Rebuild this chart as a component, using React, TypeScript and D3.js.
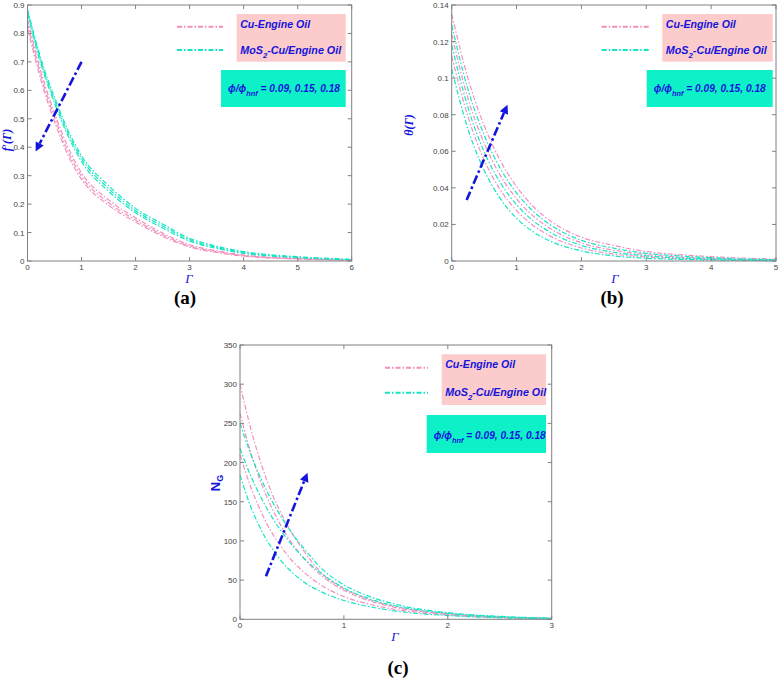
import React from 'react';
import * as d3 from 'd3';

// ---------- data ----------
const gridA = [0, 0.25, 0.5, 0.75, 1, 1.5, 2, 2.5, 3, 3.5, 4, 5, 6];
const cuA1 = [0.85, 0.665, 0.52, 0.4, 0.31, 0.215, 0.152, 0.098, 0.057, 0.036, 0.021, 0.009, 0.004];
const cuA2 = [0.835, 0.65, 0.505, 0.385, 0.298, 0.205, 0.144, 0.092, 0.053, 0.033, 0.019, 0.008, 0.003];
const cuA3 = [0.82, 0.635, 0.49, 0.372, 0.287, 0.196, 0.137, 0.087, 0.049, 0.03, 0.017, 0.007, 0.003];
const hyA1 = [0.885, 0.71, 0.575, 0.46, 0.37, 0.265, 0.185, 0.13, 0.08, 0.052, 0.033, 0.015, 0.006];
const hyA2 = [0.878, 0.7, 0.565, 0.45, 0.36, 0.255, 0.177, 0.123, 0.075, 0.048, 0.03, 0.013, 0.005];
const hyA3 = [0.87, 0.69, 0.555, 0.44, 0.35, 0.245, 0.17, 0.116, 0.07, 0.044, 0.027, 0.012, 0.004];

const gridB = [0, 0.25, 0.5, 0.75, 1, 1.25, 1.5, 2, 2.5, 3, 3.5, 4, 5];
const cuB1 = [0.135, 0.1, 0.0741, 0.0549, 0.0407, 0.0301, 0.0225, 0.013, 0.0085, 0.0052, 0.0035, 0.0024, 0.001];
const hyB1 = [0.129, 0.094, 0.069, 0.0505, 0.0372, 0.0274, 0.0203, 0.0113, 0.007, 0.0042, 0.0028, 0.0018, 0.0007];
const cuB2 = [0.124, 0.089, 0.0645, 0.0468, 0.034, 0.0248, 0.0182, 0.0099, 0.0059, 0.0035, 0.0022, 0.0014, 0.0005];
const hyB2 = [0.118, 0.084, 0.0598, 0.0428, 0.0308, 0.0222, 0.0161, 0.0085, 0.0048, 0.0028, 0.0017, 0.0011, 0.0004];
const cuB3 = [0.112, 0.079, 0.0553, 0.0389, 0.0276, 0.0196, 0.014, 0.0071, 0.0038, 0.0022, 0.0013, 0.0008, 0.0003];
const hyB3 = [0.105, 0.0722, 0.0496, 0.0341, 0.0234, 0.0161, 0.0112, 0.0055, 0.0028, 0.0015, 0.0009, 0.0006, 0.0002];

const gridC = [0, 0.1, 0.2, 0.3, 0.4, 0.5, 0.6, 0.8, 1, 1.25, 1.5, 2, 2.5, 3];
const cuC1 = [300, 245, 200, 163, 134, 110, 90, 57, 39, 25, 16, 7, 2.8, 1.1];
const cuC2 = [263, 214, 175, 144, 118, 97, 80, 54, 37, 23.5, 15, 6.5, 2.6, 1];
const cuC3 = [210, 170, 138, 112, 92, 75, 62, 42, 29, 19, 12.5, 5.5, 2.2, 0.9];
const hyC1 = [250, 212, 180, 153, 130, 110, 93, 63, 44, 29, 19, 8.5, 3.8, 1.5];
const hyC2 = [218, 184, 156, 132, 112, 95, 80, 57, 40, 26, 17, 7.5, 3.2, 1.3];
const hyC3 = [184, 145, 115, 92, 74, 60, 49, 34, 24, 16, 10.5, 4.8, 2, 0.8];

const xTicksA = [0, 1, 2, 3, 4, 5, 6];
const yTicksA = [0, 0.1, 0.2, 0.3, 0.4, 0.5, 0.6, 0.7, 0.8, 0.9];
const xTicksB = [0, 1, 2, 3, 4, 5];
const yTicksB = [0, 0.02, 0.04, 0.06, 0.08, 0.1, 0.12, 0.14];
const xTicksC = [0, 1, 2, 3];
const yTicksC = [0, 50, 100, 150, 200, 250, 300, 350];

const arrowA = [[1.0, 0.7], [0.15, 0.385]];
const arrowB = [[0.23, 0.0334], [0.86, 0.0855]];
const arrowC = [[0.25, 55], [0.65, 187]];

const legendCu = 'Cu-Engine Oil';
const phiValues = '= 0.09, 0.15, 0.18';

// ---------- styles ----------
const PINK = '#f28fbd';
const TEAL = '#12e6c4';
const BLUE = '#1414dc';
const AXIS = '#808080';
const PINKBOX = '#fccbcb';
const TEALBOX = '#0ef0c8';
const DASH = '5,2,1.5,2';

const panels = [
  {
    key: 'a', left: 27.5, right: 351.7, top: 5, bottom: 261,
    xDomain: [0, 6], yDomain: [0, 0.9], xTicks: xTicksA, yTicks: yTicksA,
    grid: gridA, cu: [cuA1, cuA2, cuA3], hy: [hyA1, hyA2, hyA3], arrow: arrowA,
    legend: { lx0: 177, lx1: 223, ly1: 26.7, ly2: 50, pb: [236.7, 14, 109, 47.7], tb: [221, 70, 124.7, 37], t1: 27.5, t2: 53.5, t3: 91.5 },
    ylabel: { kind: 'f', x: 11, y: 140 }, glabel: [189, 283], plabel: [185, 304],
  },
  {
    key: 'b', left: 451.7, right: 776, top: 5, bottom: 261,
    xDomain: [0, 5], yDomain: [0, 0.14], xTicks: xTicksB, yTicks: yTicksB,
    grid: gridB, cu: [cuB1, cuB2, cuB3], hy: [hyB1, hyB2, hyB3], arrow: arrowB,
    legend: { lx0: 601.7, lx1: 649, ly1: 26.7, ly2: 50, pb: [662.3, 14, 110.4, 47.7], tb: [646.7, 70, 126, 37], t1: 27.5, t2: 53.5, t3: 91.5 },
    ylabel: { kind: 't', x: 413, y: 125 }, glabel: [615, 283], plabel: [612, 304],
  },
  {
    key: 'c', left: 240, right: 551.7, top: 345, bottom: 619.3,
    xDomain: [0, 3], yDomain: [0, 350], xTicks: xTicksC, yTicks: yTicksC,
    grid: gridC, cu: [cuC1, cuC2, cuC3], hy: [hyC1, hyC2, hyC3], arrow: arrowC,
    legend: { lx0: 385, lx1: 428, ly1: 367.7, ly2: 392.7, pb: [441.7, 354.3, 104.3, 50.7], tb: [426.7, 415, 119.3, 38], t1: 367.5, t2: 396, t3: 439 },
    ylabel: { kind: 'n', x: 220, y: 483 }, glabel: [395, 641], plabel: [398, 674],
  },
];

function fmt(v: number) {
  return String(+v.toFixed(4));
}

function Arrow({ x, y, pts }: any) {
  const x0 = x(pts[0][0]), y0 = y(pts[0][1]);
  const x1 = x(pts[1][0]), y1 = y(pts[1][1]);
  const ang = Math.atan2(y1 - y0, x1 - x0);
  const L = 9, Wd = 4.5;
  const bx = x1 - L * Math.cos(ang), by = y1 - L * Math.sin(ang);
  const px = -Math.sin(ang), py = Math.cos(ang);
  const head = `${x1},${y1} ${bx + px * Wd},${by + py * Wd} ${bx - px * Wd},${by - py * Wd}`;
  return (
    <g>
      <line x1={x0} y1={y0} x2={bx} y2={by} stroke={BLUE} strokeWidth={2.6} strokeDasharray="9,3,2.5,3" />
      <polygon points={head} fill={BLUE} />
    </g>
  );
}

function Panel({ p }: any) {
  const x = d3.scaleLinear().domain(p.xDomain).range([p.left, p.right]);
  const y = d3.scaleLinear().domain(p.yDomain).range([p.bottom, p.top]);
  const line = d3.line<number>().x((_, i) => x(p.grid[i])).y((d) => y(d)).curve(d3.curveMonotoneX);
  const tk = 4;
  const L = p.legend;
  const legendFont = { fontFamily: 'Liberation Sans, Arial, sans-serif', fontWeight: 'bold', fontStyle: 'italic', fontSize: 11, fill: BLUE, lengthAdjust: 'spacingAndGlyphs' } as any;
  return (
    <g>
      {/* curves */}
      {p.cu.map((s: number[], i: number) => (
        <path key={'c' + i} d={line(s) || ''} fill="none" stroke={PINK} strokeWidth={1.2} strokeDasharray={DASH} />
      ))}
      {p.hy.map((s: number[], i: number) => (
        <path key={'h' + i} d={line(s) || ''} fill="none" stroke={TEAL} strokeWidth={1.2} strokeDasharray={DASH} />
      ))}
      {/* box */}
      <rect x={p.left} y={p.top} width={p.right - p.left} height={p.bottom - p.top} fill="none" stroke={AXIS} strokeWidth={1} />
      {p.xTicks.map((t: number) => (
        <g key={'x' + t}>
          <line x1={x(t)} x2={x(t)} y1={p.bottom} y2={p.bottom - tk} stroke={AXIS} />
          <line x1={x(t)} x2={x(t)} y1={p.top} y2={p.top + tk} stroke={AXIS} />
          <text x={x(t)} y={p.bottom + 8.5} textAnchor="middle" fontSize={8} fill="#444" fontFamily="Liberation Sans, Arial, sans-serif">{fmt(t)}</text>
        </g>
      ))}
      {p.yTicks.map((t: number) => (
        <g key={'y' + t}>
          <line x1={p.left} x2={p.left + tk} y1={y(t)} y2={y(t)} stroke={AXIS} />
          <line x1={p.right} x2={p.right - tk} y1={y(t)} y2={y(t)} stroke={AXIS} />
          <text x={p.left - 3} y={y(t) + 3} textAnchor="end" fontSize={8} fill="#444" fontFamily="Liberation Sans, Arial, sans-serif">{fmt(t)}</text>
        </g>
      ))}
      {/* legend */}
      <line x1={L.lx0} x2={L.lx1} y1={L.ly1} y2={L.ly1} stroke={PINK} strokeWidth={2} strokeDasharray={DASH} />
      <line x1={L.lx0} x2={L.lx1} y1={L.ly2} y2={L.ly2} stroke={TEAL} strokeWidth={2} strokeDasharray={DASH} />
      <rect x={L.pb[0]} y={L.pb[1]} width={L.pb[2]} height={L.pb[3]} fill={PINKBOX} />
      <rect x={L.tb[0]} y={L.tb[1]} width={L.tb[2]} height={L.tb[3]} fill={TEALBOX} />
      <text x={L.pb[0] + 3.5} y={L.t1} textLength={70} {...legendFont}>{legendCu}</text>
      <text x={L.pb[0] + 3.5} y={L.t2} textLength={101} {...legendFont}>
        MoS<tspan fontSize={8} dy={4}>2</tspan><tspan dy={-4}>-Cu/Engine Oil</tspan>
      </text>
      <text x={L.tb[0] + 7} y={L.t3} textLength={112} {...legendFont}>
        ϕ/ϕ<tspan fontSize={8} dy={4}>hnf</tspan><tspan dy={-4}> {phiValues}</tspan>
      </text>
      {/* arrow */}
      <Arrow x={x} y={y} pts={p.arrow} />
      {/* axis labels */}
      <text x={p.glabel[0]} y={p.glabel[1]} textAnchor="middle" fontFamily="Liberation Serif, Times New Roman, serif" fontStyle="italic" fontSize={13} fill={BLUE}>Γ</text>
      {p.ylabel.kind === 'f' && (
        <text transform={`translate(${p.ylabel.x},${p.ylabel.y}) rotate(-90)`} textAnchor="middle" fontFamily="Liberation Serif, Times New Roman, serif" fontStyle="italic" fontWeight="bold" fontSize={12} fill={BLUE}>f′(Γ)</text>
      )}
      {p.ylabel.kind === 't' && (
        <text transform={`translate(${p.ylabel.x},${p.ylabel.y}) rotate(-90)`} textAnchor="middle" fontFamily="Liberation Serif, Times New Roman, serif" fontStyle="italic" fontWeight="bold" fontSize={12} fill={BLUE}>θ(Γ)</text>
      )}
      {p.ylabel.kind === 'n' && (
        <text transform={`translate(${p.ylabel.x},${p.ylabel.y}) rotate(-90)`} textAnchor="middle" fontFamily="Liberation Sans, Arial, sans-serif" fontWeight="bold" fontSize={13} fill={BLUE}>
          N<tspan fontSize={9} dy={3}>G</tspan>
        </text>
      )}
      <text x={p.plabel[0]} y={p.plabel[1]} textAnchor="middle" fontFamily="Liberation Serif, Times New Roman, serif" fontWeight="bold" fontSize={19} fill="#000">({p.key})</text>
    </g>
  );
}

export default function App() {
  return (
    <svg width={782} height={681} viewBox="0 0 782 681" style={{ position: 'absolute', left: 0, top: 0, background: '#fff' }}>
      <rect x={0} y={0} width={782} height={681} fill="#fff" />
      {panels.map((p) => (
        <Panel key={p.key} p={p} />
      ))}
    </svg>
  );
}
